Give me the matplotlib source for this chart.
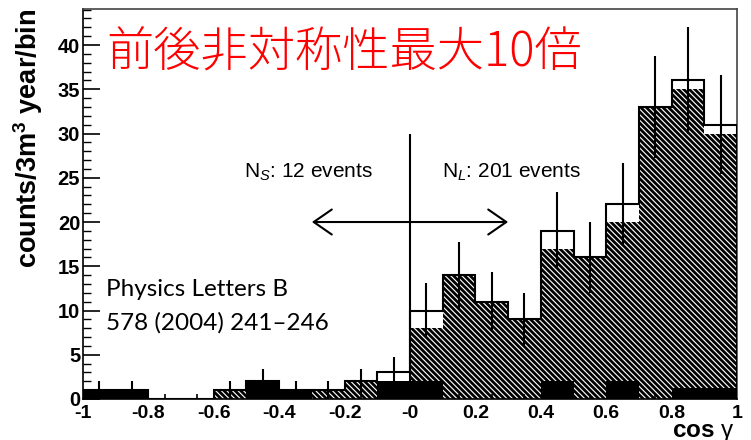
import numpy as np
import matplotlib
matplotlib.use("Agg")
import matplotlib.pyplot as plt
from matplotlib.ticker import FixedLocator, MultipleLocator

plt.rcParams["font.family"] = ["Liberation Sans", "DejaVu Sans"]
plt.rcParams["mathtext.fontset"] = "custom"
plt.rcParams["mathtext.rm"] = "Liberation Sans"
plt.rcParams["mathtext.bf"] = "Liberation Sans:bold"
plt.rcParams["mathtext.it"] = "Liberation Sans:italic"
plt.rcParams["hatch.linewidth"] = 2.0

# cos(gamma) binning: 20 bins of width 0.1
edges = np.linspace(-1.0, 1.0, 21)
centers = 0.5 * (edges[:-1] + edges[1:])

# observed events per bin (open histogram with stat. errors)
data = np.array([1, 1, 0, 0, 1, 2, 1, 1, 2, 3,
                 10, 14, 11, 9, 19, 16, 22, 33, 36, 31])
# expectation (hatched) and background (solid black)
expected = np.array([1, 1, 0, 0, 1, 2, 1, 1, 2, 2,
                     8, 14, 11, 9, 17, 16, 20, 33, 35, 30])
background = np.array([1.1, 1.1, 0, 0, 0, 2, 1, 0, 0, 2,
                       2, 0, 0, 0, 2, 0, 2, 0, 1.2, 1.2])

xtick_vals = np.round(np.linspace(-1, 1, 11), 1)
xtick_labels = ["-1", "-0.8", "-0.6", "-0.4", "-0.2", "-0",
                "0.2", "0.4", "0.6", "0.8", "1"]
ytick_vals = np.arange(0, 45, 5)

n_short = int(data[centers < 0].sum())
n_long = int(data[centers > 0].sum())

fig = plt.figure(figsize=(7.51, 4.40), dpi=100)
ax = fig.add_axes([0.1105, 0.0932, 0.8709, 0.8863])

ax.bar(centers, expected, width=0.1, facecolor="white", edgecolor="black",
       hatch="\\" * 6, linewidth=0, zorder=1)
ax.bar(centers, background, width=0.1, color="black", linewidth=0, zorder=2)
ax.stairs(data, edges, color="black", linewidth=1.5, baseline=0, zorder=3)
ax.errorbar(centers, data, yerr=np.sqrt(data), fmt="none", ecolor="black",
            elinewidth=1.5, capsize=0, zorder=3)

# cut at cos(gamma) = 0 and the short/long arrow
ax.vlines(0, 0, 30, color="black", linewidth=1.5, zorder=4)
ax.annotate("", xy=(-0.3, 20), xytext=(0.3, 20),
            arrowprops=dict(arrowstyle="<->,head_length=0.65,head_width=0.45",
                            color="black", lw=1.5, shrinkA=0, shrinkB=0,
                            mutation_scale=20), zorder=4)
ax.text(-0.31, 25, rf"N$_{{S}}$: {n_short} events", ha="center",
        va="baseline", fontsize=15, zorder=5)
ax.text(0.31, 25, rf"N$_{{L}}$: {n_long} events", ha="center",
        va="baseline", fontsize=15, zorder=5)

ax.set_xlim(-1, 1)
ax.set_ylim(0, 44.07)
ax.set_xticks(xtick_vals, labels=xtick_labels, fontweight="bold")
ax.xaxis.set_minor_locator(FixedLocator(centers))
ax.set_yticks(ytick_vals, labels=[str(v) for v in ytick_vals],
              fontweight="bold")
ax.yaxis.set_minor_locator(MultipleLocator(1))
ax.tick_params(axis="x", which="major", length=0, pad=4, labelsize=14)
ax.tick_params(axis="x", which="minor", direction="in", length=3.6, width=1.2)
ax.tick_params(axis="y", which="major", direction="in", length=12, width=1.2,
               pad=2, labelsize=14.5)
ax.tick_params(axis="y", which="minor", direction="in", length=6, width=1.0)

for side in ["top", "right"]:
    ax.spines[side].set_color("#444444")
for sp in ax.spines.values():
    sp.set_linewidth(1.2)

ax.set_ylabel(r"counts/3m$^{\mathbf{3}}$ year/bin", fontsize=19.5,
              fontweight="bold", loc="top")
ax.yaxis.set_label_coords(-0.058, 1.0)
ax.set_xlabel(r"cos $\mathrm{\gamma}$", fontsize=17.5, fontweight="bold",
              loc="right")
ax.xaxis.label.set_va("baseline")
ax.xaxis.set_label_coords(0.997, -0.0974)

fig.text(106 / 751, 1 - 53 / 440, "前後非対称性最大10倍", color="red",
         fontsize=34, fontweight="light", family=["Noto Sans CJK JP"],
         va="center", ha="left")
fig.text(106 / 751, 1 - 290 / 440, "Physics Letters B", fontsize=17.5,
         family=["Lato", "DejaVu Sans"], va="center", ha="left")
fig.text(106 / 751, 1 - 323 / 440, "578 (2004) 241\u2013246", fontsize=17.5,
         family=["Lato", "DejaVu Sans"], va="center", ha="left")

fig.savefig("out.png", dpi=100)
